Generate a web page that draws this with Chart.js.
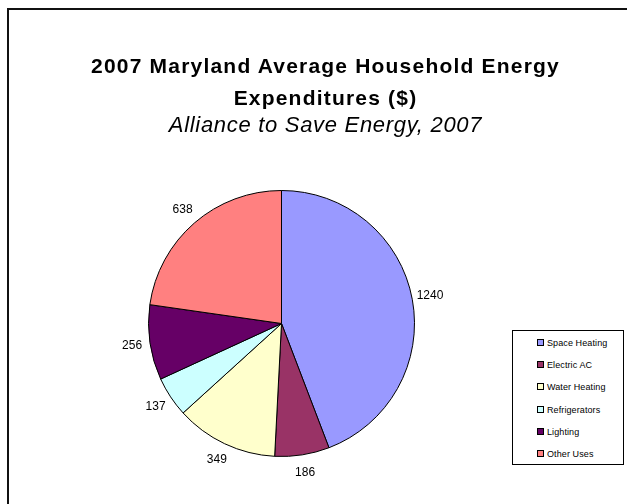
<!DOCTYPE html>
<html>
<head>
<meta charset="utf-8">
<script src="https://cdn.jsdelivr.net/npm/chart.js@4/dist/chart.umd.min.js"></script>
<style>
  html, body { margin: 0; padding: 0; background: #fff; }
  body { width: 627px; height: 504px; position: relative; overflow: hidden; font-family: "Liberation Sans", Arial, sans-serif; }
  #frame { position: absolute; left: 7px; top: 8px; width: 700px; height: 600px; border: 2px solid #111; box-sizing: border-box; }
  #chartWrap { position: absolute; left: 0; top: 0; width: 627px; height: 504px; }
  .t { position: absolute; left: 0; width: 651px; text-align: center; color: #000; white-space: nowrap; }
  #t1 { top: 54px; font-weight: bold; font-size: 21px; letter-spacing: 1.2px; }
  #t2 { top: 86px; font-weight: bold; font-size: 21px; letter-spacing: 1.2px; }
  #t3 { top: 112px; font-style: italic; font-size: 22px; letter-spacing: 0.7px; }
  #legend { position: absolute; left: 512px; top: 330px; width: 112px; height: 135px; border: 1px solid #000; box-sizing: border-box; background: #fff; }
  .li { position: absolute; left: 24px; height: 12px; font-size: 9px; line-height: 12px; color: #000; white-space: nowrap; letter-spacing: 0.1px; }
  .sw { display: inline-block; width: 5px; height: 5px; border: 1px solid #000; margin-right: 3px; vertical-align: 0px; }
</style>
</head>
<body>
<div id="frame"></div>
<div id="chartWrap"><canvas id="c" width="627" height="504"></canvas></div>
<div class="t" id="t1">2007 Maryland Average Household Energy</div>
<div class="t" id="t2">Expenditures ($)</div>
<div class="t" id="t3">Alliance to Save Energy, 2007</div>
<div id="legend"></div>
<script>
const categories = ["Space Heating", "Electric AC", "Water Heating", "Refrigerators", "Lighting", "Other Uses"];
const expenditures = [1240, 186, 349, 137, 256, 638];
const sliceColors = ["#9999FF", "#993366", "#FFFFCC", "#CCFFFF", "#660066", "#FF8080"];

// HTML legend built from the arrays
const legend = document.getElementById('legend');
categories.forEach((name, i) => {
  const d = document.createElement('div');
  d.className = 'li';
  d.style.top = (6 + i * 22.2) + 'px';
  d.innerHTML = '<span class="sw" style="background:' + sliceColors[i] + '"></span>' + name;
  legend.appendChild(d);
});

const outsideLabels = {
  id: 'outsideLabels',
  afterDatasetsDraw(chart) {
    const ctx = chart.ctx;
    const meta = chart.getDatasetMeta(0);
    ctx.save();
    ctx.font = '12px "Liberation Sans", Arial, sans-serif';
    ctx.fillStyle = '#000';
    ctx.textAlign = 'center';
    ctx.textBaseline = 'middle';
    meta.data.forEach((arc, i) => {
      const p = arc.getProps(['x', 'y', 'startAngle', 'endAngle', 'outerRadius'], true);
      const mid = (p.startAngle + p.endAngle) / 2;
      const r = p.outerRadius + 18;
      ctx.fillText(String(chart.data.datasets[0].data[i]), p.x + Math.cos(mid) * r, p.y + Math.sin(mid) * r);
    });
    ctx.restore();
  }
};

new Chart(document.getElementById('c'), {
  type: 'pie',
  data: {
    labels: categories,
    datasets: [{
      data: expenditures,
      backgroundColor: sliceColors,
      borderColor: '#000',
      borderWidth: 1
    }]
  },
  options: {
    responsive: false,
    animation: false,
    layout: { padding: { left: 148, top: 190, right: 212, bottom: 47 } },
    plugins: {
      legend: { display: false },
      title: { display: false },
      tooltip: { enabled: false }
    }
  },
  plugins: [outsideLabels]
});
</script>
</body>
</html>
